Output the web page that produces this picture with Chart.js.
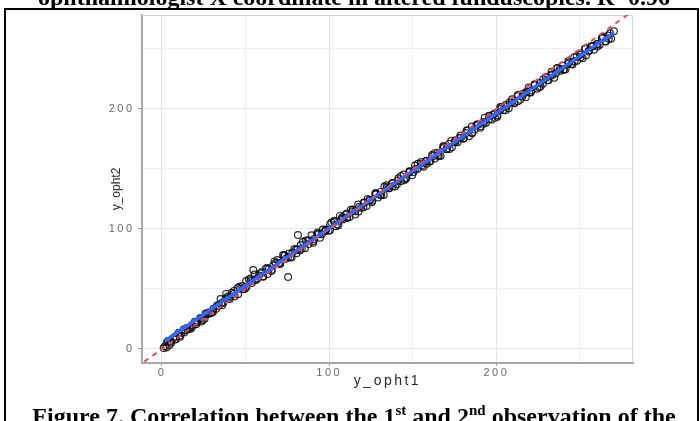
<!DOCTYPE html>
<html><head><meta charset="utf-8">
<script src="https://cdn.jsdelivr.net/npm/chart.js@4.4.1/dist/chart.umd.min.js"></script>
<style>
html,body{margin:0;padding:0;background:#fff;}
#wrap{position:relative;width:700px;height:421px;overflow:hidden;background:#fff;}
#c{position:absolute;left:0;top:0;}
.cap{position:absolute;left:4px;width:700px;text-align:center;font-family:"Liberation Serif","Times New Roman",serif;font-weight:bold;font-size:24px;line-height:24px;color:#000;white-space:nowrap;}
.cap sup{font-size:15px;line-height:0;vertical-align:9px;}
.ln{position:absolute;background:#000;}
</style></head>
<body>
<div id="wrap">
<canvas id="c" width="700" height="421"></canvas>
<div class="cap" style="top:-15px">ophthalmologist X coordinate in altered funduscopies. R=0.96</div>
<div class="ln" style="left:4px;top:8px;width:695px;height:2px"></div>
<div class="ln" style="left:4px;top:8px;width:2px;height:413px"></div>
<div class="ln" style="left:697px;top:8px;width:2px;height:413px"></div>
<div class="cap" style="top:404px">Figure 7. Correlation between the 1<sup>st</sup> and 2<sup>nd</sup> observation of the</div>
</div>
<script>
// Observations: first reading (y_opht1) vs second reading (y_opht2)
const lowX = [1.0,2.8,2.0,3.6,5.2,6.8,8.4,10.0,11.6,13.2,14.8,16.4,18.0,19.6,21.2,22.8,24.4,26.0,27.6,29.2,30.8,32.4,34.0,
  4.4,7.6,10.8,14.0,17.2,20.4,23.6,26.8,30.0,33.2];
const lowY = [0.8,1.2,2.5,6.6,6.4,9.1,8.1,13.5,13.3,13.8,17.5,17.5,18.5,22.6,22.4,25.1,24.1,29.5,29.3,29.8,33.5,33.5,36.5,
  3.2,7.9,10.1,15.6,16.8,21.9,23.0,28.9,30.6,35.8];
const midX = [35.0,36.7,38.4,40.1,41.8,43.5,45.2,46.9,48.6,50.3,52.0,53.7,55.4,57.1,58.8,60.5,62.2,63.9,65.6,67.3,
  69.0,70.7,72.4,74.1,75.8,77.5,79.2,80.9,82.6,84.3,86.0,87.7,89.4,91.1,92.8,94.5,96.2,97.9,99.6,101.3,
  103.0,104.7,106.4,108.1,109.8];
const midY = [41.7,38.6,45.9,42.8,46.8,43.9,50.8,50.3,49.7,56.7,58.0,54.9,62.1,59.0,63.1,60.2,67.0,66.6,66.0,73.0,
  74.2,71.2,78.4,75.3,79.3,76.5,83.3,82.8,82.3,89.3,90.5,87.4,94.7,91.6,95.6,92.7,99.6,99.1,98.5,105.5,
  106.8,103.7,110.9,107.9,111.9];
const upX = [110.5,112.2,113.9,115.6,117.3,119.0,120.7,122.4,124.1,125.8,
  127.5,129.2,130.9,132.6,134.3,136.0,137.7,139.4,141.1,142.8,
  144.5,146.2,147.9,149.6,151.3,153.0,154.7,156.4,158.1,159.8,
  161.5,163.2,164.9,166.6,168.3,170.0,171.7,173.4,175.1,176.8,
  178.5,180.2,181.9,183.6,185.3,187.0,188.7,190.4,192.1,193.8,
  195.5,197.2,198.9,200.6,202.3,204.0,205.7,207.4,209.1,210.8,
  212.5,214.2,215.9,217.6,219.3,221.0,222.7,224.4,226.1,227.8,
  229.5,231.2,232.9,234.6,236.3,238.0,239.7,241.4,243.1,244.8,
  246.5,248.2,249.9,251.6,253.3,255.0,256.7,258.4,260.1,261.8,
  263.5,265.2,266.9,268.6,270.3];
const upY = [112.8,110.0,114.8,112.1,120.3,117.7,122.1,119.2,124.1,123.5,
  129.1,126.2,131.1,128.4,136.5,134.0,138.4,135.5,140.3,139.8,
  145.4,142.5,147.3,144.7,152.8,150.2,154.6,151.8,156.6,156.0,
  161.7,158.8,163.6,160.9,169.1,166.5,170.9,168.0,172.9,172.3,
  177.9,175.1,179.9,177.2,185.3,182.8,187.2,184.3,189.1,188.6,
  194.2,191.3,196.2,193.5,201.6,199.0,203.5,200.6,205.4,204.8,
  210.5,207.6,212.4,209.7,217.9,215.3,219.7,216.9,221.7,221.1,
  226.7,223.9,228.7,226.0,234.1,231.6,236.0,233.1,237.9,237.4,
  243.0,240.1,245.0,242.3,250.4,247.8,252.3,249.4,254.2,253.6,
  259.3,256.4,261.2,258.6,264.7];
const extraX = [36.0,39.4,42.8,46.2,49.6,53.0,56.4,59.8,63.2,66.6,
  70.0,73.4,76.8,80.2,83.6,87.0,90.4,93.8,97.2,100.6,
  104.0,107.4,110.8,114.2,117.6,121.0,124.4,127.8,131.2,134.6,
  138.0,141.4,144.8,148.2,151.6,155.0,158.4,161.8,165.2,168.6,
  172.0,175.4,178.8,182.2,185.6,189.0,192.4,195.8,199.2,202.6,
  206.0,209.4,212.8,216.2,219.6,223.0,226.4,229.8,233.2,236.6,
  240.0,243.4,246.8,250.2,253.6,257.0,260.4,263.8,267.2];
const extraY = [36.5,43.8,45.8,51.8,50.3,56.6,57.6,64.1,62.5,69.8,
  71.8,77.8,76.3,82.7,83.6,90.2,88.5,95.9,97.8,103.9,
  102.3,108.7,109.6,116.2,114.5,121.9,123.9,129.9,128.4,134.7,
  135.7,142.2,140.6,147.9,149.9,155.9,154.4,160.7,161.7,168.3,
  166.6,174.0,175.9,182.0,180.4,186.8,187.7,194.3,192.6,200.0,
  201.9,208.0,206.5,212.8,213.8,220.3,218.7,226.0,228.0,234.0,
  232.5,238.8,239.8,246.3,244.7,252.1,254.0,260.1,258.5];
const denseX = [3.0,5.5,8.0,10.5,13.0,15.5,18.0,20.5,23.0,25.5,28.0,30.5,33.0,
  35.5,38.0,40.5,43.0,45.5,48.0,50.5,53.0,55.5,58.0,60.5,63.0,65.5,68.0,70.5,73.0,75.5,
  78.0,80.5,83.0,85.5,88.0,90.5,93.0,95.5,98.0,100.5,103.0,105.5,108.0,110.5,113.0,115.5,
  118.0,120.5,123.0,125.5,128.0,130.5,133.0,135.5,138.0,140.5,143.0,145.5,148.0,150.5,
  153.0,155.5,158.0,160.5,163.0,165.5,168.0,170.5,173.0,175.5,178.0,180.5,183.0,185.5,
  188.0,190.5,193.0,195.5,198.0,200.5,203.0,205.5,208.0,210.5,213.0,215.5,218.0,220.5,
  223.0,225.5,228.0,230.5,233.0,235.5,238.0,240.5,243.0,245.5,248.0,250.5,253.0,255.5,
  258.0,260.5,263.0,265.5,268.0];
const denseY = [5.8,5.3,10.4,11.0,16.3,16.5,19.9,20.7,25.8,25.3,30.4,31.0,36.3,
  38.2,42.1,41.6,48.4,45.7,52.4,51.7,58.7,57.3,61.2,60.7,67.5,64.9,71.6,70.9,77.9,76.5,
  80.4,79.8,86.6,84.0,90.7,90.0,97.0,95.6,99.5,99.0,105.8,103.2,109.9,109.2,116.1,114.7,
  118.6,118.1,124.9,122.3,129.0,128.3,135.3,133.9,137.8,137.3,144.1,141.4,148.1,147.4,
  154.4,153.0,156.9,156.4,163.2,160.6,167.3,166.6,173.6,172.2,176.1,175.5,182.3,179.7,
  186.4,185.7,192.7,191.3,195.2,194.7,201.5,198.9,205.6,204.9,211.8,210.4,214.3,213.8,
  220.6,218.0,224.7,224.0,231.0,229.6,233.5,233.0,239.8,237.1,243.8,243.1,250.1,248.7,
  252.6,252.1,258.9,256.3,263.0];
const outlierX = [54.6,75.4,81.3];
const outlierY = [65.8,60.0,95.0];

// Linear fit (blue) end points and identity line (red dashed)
const fitX = [1.8, 270.3];
const fitY = [6.7, 263.6];
const identity = [-30, 310];

// Axis ticks
const gridVals = [0, 50, 100, 150, 200, 250];
const tickLabels = [0, 100, 200];
const xRange = [-11.96, 281.7];
const yRange = [-11.67, 278.3];

const obsX = [].concat(lowX, midX, upX, extraX, denseX, outlierX);
const obsY = [].concat(lowY, midY, upY, extraY, denseY, outlierY);
const pts = obsX.map((x, i) => ({x: x, y: obsY[i]}));

const isMajor = v => tickLabels.indexOf(v) >= 0;

const framePlugin = {
  id: 'frame',
  beforeDraw(chart) {
    chart.ctx.letterSpacing = '2.5px';
    const ys = chart.scales.y;
    if (ys && !ys._wrappedTitle) {
      const orig = ys.drawTitle;
      ys.drawTitle = function () {
        const c = this.ctx; const p = c.letterSpacing;
        c.letterSpacing = '0px'; orig.apply(this, arguments); c.letterSpacing = p;
      };
      ys._wrappedTitle = true;
    }
  },
  beforeDatasetsDraw(chart) {
    const a = chart.chartArea, ctx = chart.ctx;
    ctx.save();
    ctx.strokeStyle = '#d4d4d4';
    ctx.lineWidth = 1;
    ctx.beginPath();
    ctx.moveTo(a.left, a.top + 0.5); ctx.lineTo(a.right - 0.5, a.top + 0.5); ctx.lineTo(a.right - 0.5, a.bottom);
    ctx.stroke();
    ctx.restore();
  }
};

Chart.defaults.font.family = '"Liberation Sans", Arial, sans-serif';

new Chart(document.getElementById('c'), {
  type: 'scatter',
  data: {
    datasets: [
      {
        label: 'observations',
        data: pts,
        pointRadius: 3.4,
        pointBorderWidth: 1.2,
        pointBorderColor: 'rgba(10,10,10,0.85)',
        pointBackgroundColor: 'rgba(0,0,0,0)',
        showLine: false,
        order: 2
      },
      {
        label: 'fit',
        data: fitX.map((x, i) => ({x: x, y: fitY[i]})),
        showLine: true,
        borderColor: '#3366ff',
        borderWidth: 3.5,
        pointRadius: 0,
        order: 1
      },
      {
        label: 'identity',
        data: identity.map(v => ({x: v, y: v})),
        showLine: true,
        borderColor: '#e8475c',
        borderWidth: 2,
        borderDash: [5, 5],
        pointRadius: 0,
        order: 0
      }
    ]
  },
  options: {
    responsive: false,
    animation: false,
    events: [],
    layout: {padding: {left: 107, right: 67, top: 15, bottom: 0}},
    plugins: {legend: {display: false}, tooltip: {enabled: false}},
    scales: {
      x: {
        type: 'linear',
        min: xRange[0], max: xRange[1],
        afterBuildTicks: s => { s.ticks = gridVals.map(v => ({value: v})); },
        afterFit: s => { s.height = 58; },
        grid: {
          color: ctx => isMajor(ctx.tick && ctx.tick.value) ? '#e6e6e6' : '#f0f0f0',
          lineWidth: 1,
          tickLength: 3,
          tickColor: ctx => isMajor(ctx.tick && ctx.tick.value) ? '#9a9a9a' : 'rgba(0,0,0,0)'
        },
        border: {display: true, color: '#a8a8a8', width: 2},
        ticks: {
          padding: 0,
          color: '#6a6a6a',
          font: {size: 11},
          maxRotation: 0,
          autoSkip: false,
          callback: v => isMajor(v) ? String(v) : ''
        },
        title: {display: true, text: 'y_opht1', color: '#2a2a2a', font: {size: 14}, padding: {top: 0, bottom: 31}}
      },
      y: {
        type: 'linear',
        min: yRange[0], max: yRange[1],
        afterBuildTicks: s => { s.ticks = gridVals.map(v => ({value: v})); },
        afterFit: s => { s.width = 35; },
        grid: {
          color: ctx => isMajor(ctx.tick && ctx.tick.value) ? '#e6e6e6' : '#f0f0f0',
          lineWidth: 1,
          tickLength: 4,
          tickColor: ctx => isMajor(ctx.tick && ctx.tick.value) ? '#9a9a9a' : 'rgba(0,0,0,0)'
        },
        border: {display: true, color: '#a8a8a8', width: 2},
        ticks: {
          padding: 3.5,
          color: '#6a6a6a',
          font: {size: 11},
          autoSkip: false,
          callback: v => isMajor(v) ? String(v) : ''
        },
        title: {display: true, text: 'y_opht2', color: '#2a2a2a', font: {size: 12}, padding: {top: 2, bottom: 0}}
      }
    }
  },
  plugins: [framePlugin]
});
</script>
</body></html>
